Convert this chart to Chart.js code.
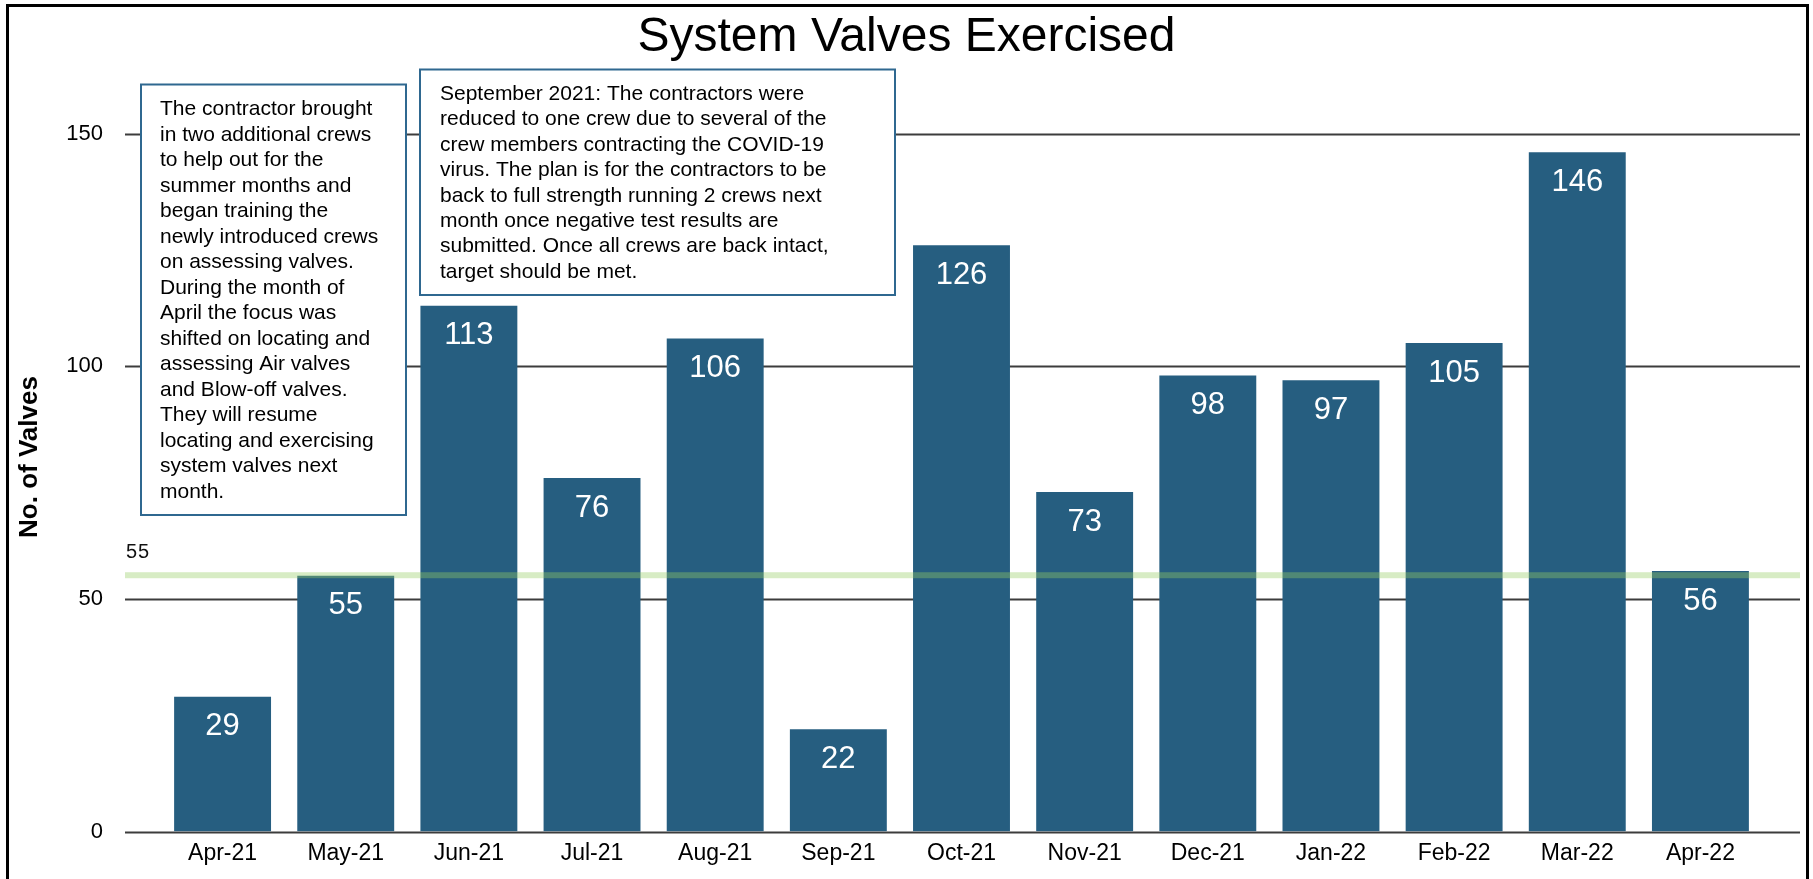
<!DOCTYPE html>
<html>
<head>
<meta charset="utf-8">
<script src="https://cdn.jsdelivr.net/npm/chart.js@4.4.1/dist/chart.umd.min.js"></script>
<style>
  html, body { margin: 0; padding: 0; background: #fff; overflow: hidden; }
  #wrap { position: relative; width: 1813px; height: 879px; }
  #frame { position: absolute; left: 6px; top: 4px; width: 1797px; height: 1000px; border: 3px solid #000; pointer-events: none; box-sizing: content-box; }
  canvas { position: absolute; left: 0; top: 0; }
</style>
</head>
<body>
<div id="wrap">
  <canvas id="c" width="1813" height="879"></canvas>
  <div id="frame"></div>
</div>
<script>
const categories = ['Apr-21','May-21','Jun-21','Jul-21','Aug-21','Sep-21','Oct-21','Nov-21','Dec-21','Jan-22','Feb-22','Mar-22','Apr-22'];
const valvesExercised = [29, 55, 113, 76, 106, 22, 126, 73, 98, 97, 105, 146, 56];
const targetValue = 55;
const yTicks = [0, 50, 100, 150];
const chartTitle = 'System Valves Exercised';
const yAxisTitle = 'No. of Valves';
const noteApril = [
  'The contractor brought',
  'in two additional crews',
  'to help out for the',
  'summer months and',
  'began training the',
  'newly introduced crews',
  'on assessing valves.',
  'During the month of',
  'April the focus was',
  'shifted on locating and',
  'assessing Air valves',
  'and Blow-off valves.',
  'They will resume',
  'locating and exercising',
  'system valves next',
  'month.'
];
const noteSeptember = [
  'September 2021: The contractors were',
  'reduced to one crew due to several of the',
  'crew members contracting the COVID-19',
  'virus. The plan is for the contractors to be',
  'back to full strength running 2 crews next',
  'month once negative test results are',
  'submitted. Once all crews are back intact,',
  'target should be met.'
];

const FONT = "'Liberation Sans', Arial, sans-serif";

const extGrid = {
  id: 'extGrid',
  beforeDatasetsDraw(chart) {
    const ctx = chart.ctx, y = chart.scales.y;
    ctx.save();
    ctx.strokeStyle = '#3c3c3c';
    ctx.lineWidth = 2;
    yTicks.forEach(v => {
      const py = Math.round(y.getPixelForValue(v)) + 0.5;
      ctx.beginPath();
      ctx.moveTo(125, py);
      ctx.lineTo(1800, py);
      ctx.stroke();
    });
    // y-axis title
    ctx.translate(30, y.getPixelForValue(80.5));
    ctx.rotate(-Math.PI / 2);
    ctx.fillStyle = '#000';
    ctx.font = 'bold 26px ' + FONT;
    ctx.textAlign = 'center';
    ctx.textBaseline = 'middle';
    ctx.fillText(yAxisTitle, 0, 0);
    ctx.restore();
  },
  afterDatasetsDraw(chart) {
    const ctx = chart.ctx, y = chart.scales.y;
    ctx.save();
    const meta = chart.getDatasetMeta(0);
    ctx.fillStyle = '#ffffff';
    ctx.font = '31px ' + FONT;
    ctx.textAlign = 'center';
    ctx.textBaseline = 'middle';
    meta.data.forEach((bar, i) => {
      ctx.fillText(String(valvesExercised[i]), bar.x, bar.y + 30);
    });
    const ty = y.getPixelForValue(targetValue);
    ctx.fillStyle = 'rgba(150,206,100,0.38)';
    ctx.fillRect(125, ty - 3.5, 1675, 6);
    ctx.fillStyle = '#111';
    ctx.font = '20px ' + FONT;
    ctx.textAlign = 'left';
    ctx.textBaseline = 'middle';
    try { ctx.letterSpacing = '1px'; } catch (e) {}
    ctx.fillText(String(targetValue), 126, ty - 23);
    try { ctx.letterSpacing = '0px'; } catch (e) {}
    ctx.restore();
  },
  afterDraw(chart) {
    const ctx = chart.ctx;
    ctx.save();
    const drawBox = (x, yy, w, h, lines, tx, firstBase, step) => {
      ctx.fillStyle = '#fff';
      ctx.fillRect(x, yy, w, h);
      ctx.strokeStyle = '#2f6890';
      ctx.lineWidth = 2;
      ctx.strokeRect(x, yy, w, h);
      ctx.fillStyle = '#000';
      ctx.font = '21px ' + FONT;
      ctx.textAlign = 'left';
      ctx.textBaseline = 'alphabetic';
      lines.forEach((t, i) => ctx.fillText(t, tx, firstBase + i * step));
    };
    drawBox(141, 84.5, 265, 430.5, noteApril, 160, 115, 25.5);
    drawBox(420, 69.5, 475, 225.5, noteSeptember, 440, 100, 25.4);
    ctx.restore();
  }
};

const chart = new Chart(document.getElementById('c'), {
  type: 'bar',
  data: {
    labels: categories,
    datasets: [{
      label: 'Valves Exercised',
      data: valvesExercised,
      backgroundColor: '#265e80',
      borderWidth: 0,
      categoryPercentage: 1,
      barPercentage: 0.787,
      yAxisID: 'y'
    }]
  },
  options: {
    responsive: false,
    animation: false,
    devicePixelRatio: 1,
    layout: { padding: 0 },
    plugins: {
      legend: { display: false },
      tooltip: { enabled: false },
      title: {
        display: true,
        text: chartTitle,
        color: '#000',
        font: { family: FONT, size: 48, weight: 'normal', lineHeight: 1.2 },
        padding: { top: 9, bottom: 67 }
      }
    },
    scales: {
      x: {
        type: 'category',
        grid: { display: false, drawTicks: false },
        border: { display: false },
        ticks: { color: '#000', font: { family: FONT, size: 23 }, padding: 8, maxRotation: 0, autoSkip: false },
        afterFit(s) { s.height = 47.3; }
      },
      y: {
        position: 'left',
        min: 0,
        max: 150,
        grid: { display: true, color: 'rgba(0,0,0,0)', drawOnChartArea: false, drawTicks: true, tickLength: 50 },
        border: { display: false },
        ticks: {
          stepSize: 50,
          color: '#000',
          font: { family: FONT, size: 22 },
          padding: 8,
          callback: (v) => yTicks.includes(v) ? String(v) : ''
        },
        title: { display: false },
        afterFit(s) { s.width = 161; }
      },
      yRight: {
        type: 'linear',
        position: 'right',
        display: true,
        min: 0,
        max: 150,
        grid: { display: false, drawTicks: false },
        border: { display: false },
        ticks: { display: false, padding: 0 },
        afterFit(s) { s.width = 51; }
      }
    }
  },
  plugins: [extGrid]
});
</script>
</body>
</html>
